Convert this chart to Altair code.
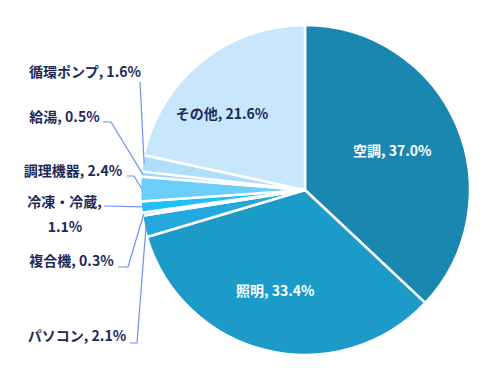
import math
import altair as alt
import pandas as pd

# ---- data ----
categories = ["空調", "照明", "パソコン", "複合機", "冷凍・冷蔵", "調理機器", "給湯", "循環ポンプ", "その他"]
shares = [37.0, 33.4, 2.1, 0.3, 1.1, 2.4, 0.5, 1.6, 21.6]
colors = ["#1a87b1", "#1c9bc9", "#22a8dc", "#2db3e8", "#22c0f8", "#6ccefb", "#95d8fa", "#b0dffb", "#c8e6fc"]

# ---- layout ----
W, H = 485, 361
CX, CY, R = 297, 182, 165
FONT = "Noto Sans CJK JP"
NAVY = "#1c2a5a"
LEADER = "#6f8ff0"

df = pd.DataFrame({"cat": categories, "share": shares, "ord": list(range(len(categories)))})

# mid angle (radians, clockwise from top) of each slice, from the data
mid = {}
cum = 0.0
total = sum(shares)
for c, s in zip(categories, shares):
    mid[c] = (cum + s / 2) / total * 2 * math.pi
    cum += s

def polar(c, r, ddeg=0.0):
    a = mid[c] + math.radians(ddeg)
    return CX + r * math.sin(a), CY - r * math.cos(a)

# inside labels: radius, angle tweak, colour
inside = {"空調": (95, 0, "white"), "照明": (106, 3, "white"), "その他": (112, -9, NAVY)}
# outside labels: text lines with centre positions, leader elbow points
outside = {
    "循環ポンプ": ([(77, 65)], [(132, 74)]),
    "給湯": ([(56.5, 110)], [(95, 114), (103, 114)]),
    "調理機器": ([(65, 164)], [(119, 168), (126, 168)]),
    "冷凍・冷蔵": ([(56.5, 195), (57, 220)], [(96, 198)]),
    "複合機": ([(63.5, 254)], [(110, 259), (120, 259)]),
    "パソコン": ([(69, 329)], [(122, 335), (129, 335)]),
}

share_of = dict(zip(categories, shares))
rows = []
for c, (r, dd, col) in inside.items():
    x, y = polar(c, r, dd)
    rows.append({"x": x, "y": y, "t": f"{c}, {share_of[c]:.1f}%", "c": col})
lines = []
for c, (pos, elbow) in outside.items():
    txt = f"{c}, {share_of[c]:.1f}%"
    if len(pos) == 2:
        parts = [f"{c},", f"{share_of[c]:.1f}%"]
    else:
        parts = [txt]
    for (x, y), t in zip(pos, parts):
        rows.append({"x": x, "y": y, "t": t, "c": NAVY})
    pts = elbow + [polar(c, R - 2)]
    for i, (x, y) in enumerate(pts):
        lines.append({"cat": c, "seq": i, "x": x, "y": y})

lab = pd.DataFrame(rows)
ldf = pd.DataFrame(lines)

pie = alt.Chart(df).mark_arc(outerRadius=R, stroke="white", strokeWidth=2.5).encode(
    theta=alt.Theta("share:Q", stack=True),
    order=alt.Order("ord:Q"),
    color=alt.Color("cat:N", scale=alt.Scale(domain=categories, range=colors), legend=None),
    x=alt.value(CX),
    y=alt.value(CY),
)

leaders = alt.Chart(ldf).mark_line(color=LEADER, strokeWidth=1.2).encode(
    x=alt.X("x:Q", scale=None, axis=None),
    y=alt.Y("y:Q", scale=None, axis=None),
    detail="cat:N",
    order="seq:Q",
)

texts = alt.Chart(lab).mark_text(font=FONT, fontSize=14, fontWeight="bold", baseline="middle", align="center").encode(
    x=alt.X("x:Q", scale=None, axis=None),
    y=alt.Y("y:Q", scale=None, axis=None),
    text="t:N",
    color=alt.Color("c:N", scale=None),
)

chart = alt.layer(pie, leaders, texts).properties(
    width=W, height=H, autosize="none", padding=0
).configure_view(stroke=None)

chart.save("out.html", embed_options={"renderer": "svg", "actions": False})
